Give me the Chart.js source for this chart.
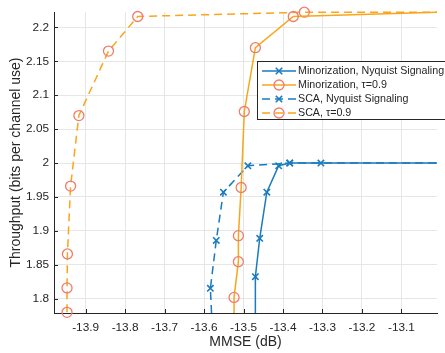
<!DOCTYPE html>
<html>
<head>
<meta charset="utf-8">
<script src="https://cdn.jsdelivr.net/npm/chart.js@4/dist/chart.umd.min.js"></script>
<style>
  body { margin: 0; background: #fff; }
  #wrap { width: 445px; height: 353px; }
</style>
</head>
<body>
<div id="wrap"><canvas id="plot" width="445" height="353"></canvas></div>
<script>
// Data (MMSE in dB, throughput in bits per channel use)
const minNyqX = [-13.470, -13.470, -13.459, -13.441, -13.411, -13.383, -13.304, -13.01];
const minNyqY = [1.779, 1.8325, 1.889, 1.957, 1.996, 2.000, 2.000, 2.000];

const minTauX = [-13.524, -13.524, -13.513, -13.513, -13.506, -13.498, -13.470, -13.374, -13.01];
const minTauY = [1.779, 1.802, 1.8546, 1.893, 1.964, 2.076, 2.170, 2.216, 2.2222];

const scaNyqX = [-13.581, -13.584, -13.569, -13.551, -13.489, -13.383, -13.01];
const scaNyqY = [1.779, 1.8153, 1.886, 1.957, 1.996, 2.000, 2.000];

const scaTauX = [-13.947, -13.947, -13.946, -13.938, -13.917, -13.842, -13.768, -13.346, -13.01];
const scaTauY = [1.780, 1.816, 1.866, 1.966, 2.070, 2.165, 2.216, 2.2223, 2.2223];

const seriesNames = ['Minorization, Nyquist Signaling', 'Minorization, \u03c4=0.9', 'SCA, Nyquist Signaling', 'SCA, \u03c4=0.9'];

const xTicks = [-13.9, -13.8, -13.7, -13.6, -13.5, -13.4, -13.3, -13.2, -13.1];
const yTicks = [1.8, 1.85, 1.9, 1.95, 2.0, 2.05, 2.1, 2.15, 2.2];
const xMin = -13.98, xMax = -13.01;
const yMin = 1.779, yMax = 2.2225;

const BLUE = '#1a7bc0';
const ORANGE = '#faa51a';
const SALMON = '#f07c6c';
const INK = '#262626';
const FONT = "'Liberation Sans', Arial, Helvetica, sans-serif";

function pts(xs, ys) {
    return xs.map((x, i) => ({ x: x, y: ys[i] }));
}

// markers only where the point is inside the axes (edge points just carry the line)
function markerSize(r) {
    return ctx => {
        const p = ctx.raw;
        if (!p || p.y <= yMin || p.x >= xMax) return 0;
        return r;
    };
}

function series(label, xs, ys, color, dashed, style) {
    const isCircle = style === 'circle';
    return {
        label: label,
        data: pts(xs, ys),
        showLine: true,
        borderColor: color,
        borderWidth: 1.5,
        borderDash: dashed ? [8, 5] : [],
        pointStyle: style,
        pointRadius: markerSize(isCircle ? 5 : 4.5),
        pointBorderColor: isCircle ? SALMON : color,
        pointBackgroundColor: 'rgba(0,0,0,0)',
        pointBorderWidth: isCircle ? 1.3 : 1.6,
        clip: 7
    };
}

// MATLAB style inner tick marks
const innerTicks = {
    id: 'innerTicks',
    afterDatasetsDraw(chart) {
        const c = chart.ctx;
        const xs = chart.scales.x, ys = chart.scales.y;
        const a = chart.chartArea;
        c.save();
        c.strokeStyle = INK;
        c.lineWidth = 1;
        c.beginPath();
        xTicks.forEach(v => {
            const px = Math.round(xs.getPixelForValue(v)) + 0.5;
            c.moveTo(px, a.bottom);
            c.lineTo(px, a.bottom - 4);
        });
        yTicks.forEach(v => {
            const py = Math.round(ys.getPixelForValue(v)) + 0.5;
            c.moveTo(a.left, py);
            c.lineTo(a.left + 4, py);
        });
        c.stroke();
        c.restore();
    }
};

// legend box drawn inside the axes, top right
const boxLegend = {
    id: 'boxLegend',
    afterDraw(chart) {
        const c = chart.ctx;
        const left = 257.5, top = 61.5, bottom = 119.5;
        c.save();
        c.fillStyle = '#fff';
        c.fillRect(left, top, 200, bottom - top);
        c.strokeStyle = INK;
        c.lineWidth = 1;
        c.strokeRect(left, top, 200, bottom - top);
        c.font = '10.7px ' + FONT;
        c.textBaseline = 'middle';
        chart.data.datasets.forEach((ds, i) => {
            const y = 71 + i * 14;
            c.strokeStyle = ds.borderColor;
            c.lineWidth = ds.borderWidth;
            c.setLineDash(ds.borderDash);
            c.beginPath();
            c.moveTo(262, y);
            c.lineTo(296, y);
            c.stroke();
            c.setLineDash([]);
            c.strokeStyle = ds.pointBorderColor;
            c.lineWidth = ds.pointBorderWidth;
            c.beginPath();
            if (ds.pointStyle === 'circle') {
                c.arc(279, y, 5, 0, Math.PI * 2);
            } else {
                const d = 3.2;
                c.moveTo(279 - d, y - d); c.lineTo(279 + d, y + d);
                c.moveTo(279 - d, y + d); c.lineTo(279 + d, y - d);
            }
            c.stroke();
            c.fillStyle = INK;
            c.fillText(seriesNames[i], 298, y + 0.5);
        });
        c.restore();
    }
};

new Chart(document.getElementById('plot'), {
    type: 'scatter',
    data: {
        datasets: [
            series(seriesNames[0], minNyqX, minNyqY, BLUE, false, 'crossRot'),
            series(seriesNames[1], minTauX, minTauY, ORANGE, false, 'circle'),
            series(seriesNames[2], scaNyqX, scaNyqY, BLUE, true, 'crossRot'),
            series(seriesNames[3], scaTauX, scaTauY, ORANGE, true, 'circle')
        ]
    },
    options: {
        responsive: false,
        animation: false,
        events: [],
        layout: { padding: { top: 12, right: 8, left: 0, bottom: 0 } },
        plugins: {
            legend: { display: false },
            tooltip: { enabled: false }
        },
        scales: {
            x: {
                type: 'linear',
                min: xMin,
                max: xMax,
                afterBuildTicks: s => { s.ticks = xTicks.map(v => ({ value: v })); },
                afterFit: s => { s.height = 40; },
                grid: { color: '#e6e6e6', drawTicks: false },
                border: { display: true, color: INK, width: 1 },
                ticks: {
                    padding: 8,
                    color: INK,
                    font: { family: FONT, size: 11.8 },
                    callback: v => String(v)
                },
                title: {
                    display: true,
                    text: 'MMSE (dB)',
                    color: INK,
                    font: { family: FONT, size: 14 },
                    padding: { top: 0, bottom: 2 }
                }
            },
            y: {
                type: 'linear',
                min: yMin,
                max: yMax,
                afterBuildTicks: s => { s.ticks = yTicks.map(v => ({ value: v })); },
                afterFit: s => { s.width = 54; },
                grid: { color: '#e6e6e6', drawTicks: false },
                border: { display: true, color: INK, width: 1 },
                ticks: {
                    padding: 5,
                    color: INK,
                    font: { family: FONT, size: 11.8 },
                    callback: v => String(v)
                },
                title: {
                    display: true,
                    text: 'Throughput (bits per channel use)',
                    color: INK,
                    font: { family: FONT, size: 14 },
                    padding: { top: 8, bottom: 0 }
                }
            }
        }
    },
    plugins: [innerTicks, boxLegend]
});
</script>
</body>
</html>
